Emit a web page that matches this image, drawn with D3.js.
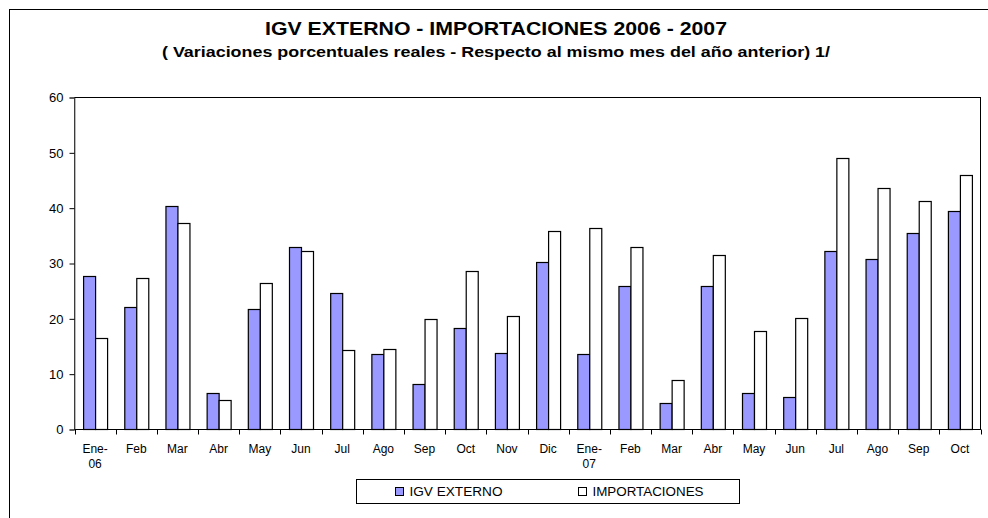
<!DOCTYPE html>
<html>
<head>
<meta charset="utf-8">
<script src="https://cdn.jsdelivr.net/npm/d3@7"></script>
<style>
    body { margin: 0; background: #fff; }
    svg { display: block; font-family: Arial, "Liberation Sans", sans-serif; }
</style>
</head>
<body>
<svg id="chart" width="988" height="518"></svg>
<script>
// Meses (dos lineas cuando hace falta)
const months = ["Ene-|06", "Feb", "Mar", "Abr", "May", "Jun", "Jul", "Ago", "Sep", "Oct", "Nov", "Dic",
                "Ene-|07", "Feb", "Mar", "Abr", "May", "Jun", "Jul", "Ago", "Sep", "Oct"];
const igvExterno = [27.7, 22.2, 40.4, 6.6, 21.7, 32.9, 24.6, 13.6, 8.2, 18.3, 13.8, 30.3,
                    13.6, 25.9, 4.7, 25.9, 6.6, 5.9, 32.3, 30.9, 35.5, 39.5];
const importaciones = [16.6, 27.3, 37.4, 5.4, 26.4, 32.3, 14.3, 14.5, 19.9, 28.7, 20.6, 35.9,
                       36.4, 32.9, 8.9, 31.6, 17.8, 20.1, 49.1, 43.7, 41.3, 46.0];
const seriesNames = ["IGV EXTERNO", "IMPORTACIONES"];
const seriesColors = ["#9999ff", "#ffffff"];
const yTicks = [0, 10, 20, 30, 40, 50, 60];

const svg = d3.select("#chart");
const plotLeft = 74.5, plotRight = 980.5, plotTop = 97.5, plotBottom = 429.5;

// marco exterior
svg.append("rect")
    .attr("x", 9.5).attr("y", 9.5)
    .attr("width", 990).attr("height", 520)
    .attr("fill", "none").attr("stroke", "#000");

// el original esta algo estirado a lo ancho
svg.append("text")
    .attr("x", 496).attr("y", 35)
    .attr("text-anchor", "middle")
    .attr("textLength", 462).attr("lengthAdjust", "spacingAndGlyphs")
    .style("font-size", "18.5px").style("font-weight", "bold")
    .text("IGV EXTERNO - IMPORTACIONES 2006 - 2007");

svg.append("text")
    .attr("x", 496).attr("y", 57)
    .attr("text-anchor", "middle")
    .attr("textLength", 668).attr("lengthAdjust", "spacingAndGlyphs")
    .style("font-size", "15.5px").style("font-weight", "bold")
    .text("( Variaciones porcentuales reales - Respecto al mismo mes del año anterior) 1/");

const idx = d3.range(months.length);
const x = d3.scaleBand().domain(idx).range([plotLeft, plotRight]);
const inner = d3.scaleBand().domain([0, 1]).range([0, 24]);
const y = d3.scaleLinear().domain([0, 60]).range([plotBottom, plotTop]);

// area de trazado
svg.append("rect")
    .attr("x", plotLeft).attr("y", plotTop)
    .attr("width", plotRight - plotLeft).attr("height", plotBottom - plotTop)
    .attr("fill", "none").attr("stroke", "#000");

const groups = svg.append("g").selectAll("g")
    .data(idx)
    .join("g")
    .attr("transform", i => `translate(${x(i) + x.bandwidth() / 2 - 12},0)`);

groups.selectAll("rect")
    .data(i => [igvExterno[i], importaciones[i]])
    .join("rect")
    .attr("x", (d, j) => inner(j) + 0.5)
    .attr("y", d => Math.round(y(d)) + 0.5)
    .attr("width", inner.bandwidth())
    .attr("height", d => plotBottom - Math.round(y(d)) - 0.5)
    .attr("fill", (d, j) => seriesColors[j])
    .attr("stroke", "#000")
    .attr("stroke-width", 1.2);

// eje Y
const yAxis = svg.append("g")
    .attr("transform", `translate(${plotLeft},0)`)
    .call(d3.axisLeft(y).tickValues(yTicks).tickSize(5).tickPadding(6));
yAxis.select(".domain").attr("stroke", "#777");
yAxis.selectAll("text").style("font-size", "13px").attr("fill", "#000").attr("font-family", null);

// eje X: ticks en los limites de cada categoria
const xAxis = svg.append("g").attr("transform", `translate(0,${plotBottom})`);
xAxis.append("line")
    .attr("x1", plotLeft).attr("x2", plotRight)
    .attr("stroke", "#000");
xAxis.selectAll("line.tick")
    .data(d3.range(months.length + 1))
    .join("line")
    .attr("class", "tick")
    .attr("x1", i => Math.round(plotLeft + i * x.step()) + 0.5)
    .attr("x2", i => Math.round(plotLeft + i * x.step()) + 0.5)
    .attr("y1", 0).attr("y2", 5)
    .attr("stroke", "#000");

const lbl = xAxis.selectAll("text")
    .data(idx)
    .join("text")
    .attr("x", i => x(i) + x.bandwidth() / 2)
    .attr("y", 23)
    .attr("text-anchor", "middle")
    .style("font-size", "12px");
lbl.selectAll("tspan")
    .data(i => months[i].split("|").map(s => ({ s, i })))
    .join("tspan")
    .attr("x", d => x(d.i) + x.bandwidth() / 2)
    .attr("dy", (d, k) => k === 0 ? 0 : 15)
    .text(d => d.s);

// leyenda
const legend = svg.append("g");
legend.append("rect")
    .attr("x", 356.5).attr("y", 479.5)
    .attr("width", 383).attr("height", 24)
    .attr("fill", "#fff").attr("stroke", "#000");
const legendX = [395.5, 578.5];
const legendW = [93, 111];
seriesNames.forEach((name, j) => {
    legend.append("rect")
        .attr("x", legendX[j]).attr("y", 487.5)
        .attr("width", 8).attr("height", 8)
        .attr("fill", seriesColors[j]).attr("stroke", "#000");
    legend.append("text")
        .attr("x", legendX[j] + 14).attr("y", 496)
        .attr("textLength", legendW[j]).attr("lengthAdjust", "spacingAndGlyphs")
        .style("font-size", "12.5px")
        .text(name);
});
</script>
</body>
</html>
